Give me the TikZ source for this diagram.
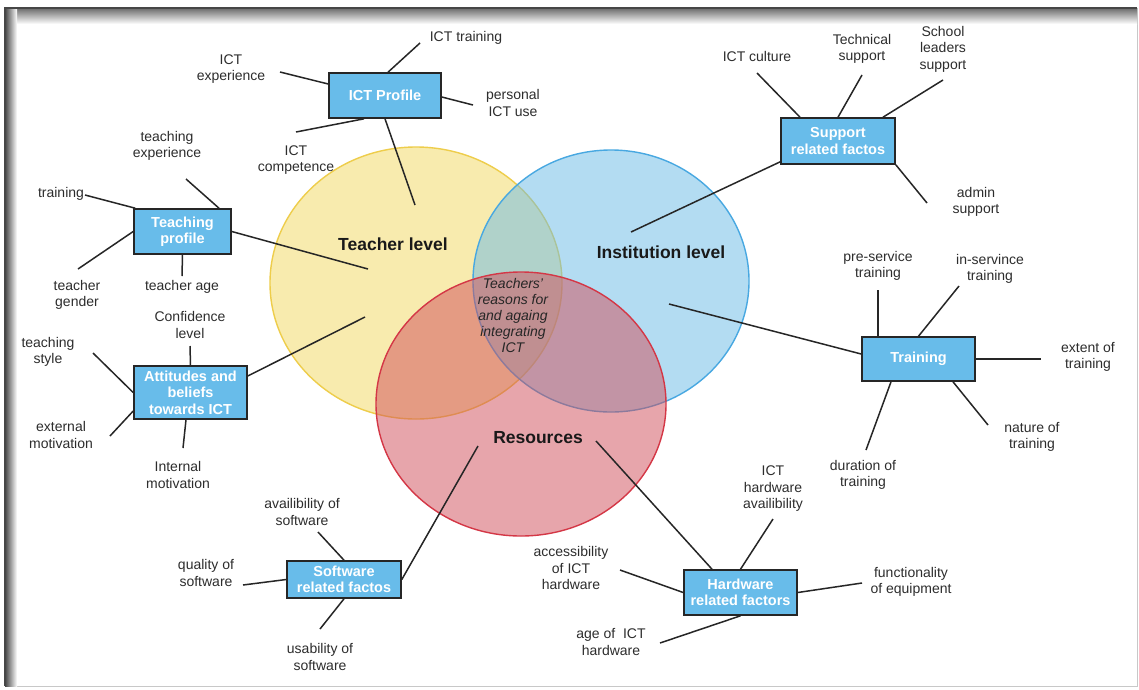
\documentclass[tikz,border=0pt]{standalone}
\usepackage{fontspec}
\setmainfont{Liberation Sans}

\definecolor{ink}{RGB}{45,45,45}
\definecolor{boxfill}{RGB}{104,188,234}
\definecolor{ylwfill}{RGB}{243,217,95}
\definecolor{ylwline}{RGB}{238,205,75}
\definecolor{bluefill}{RGB}{105,187,231}
\definecolor{blueline}{RGB}{72,168,225}
\definecolor{redfill}{RGB}{209,77,89}
\definecolor{redline}{RGB}{212,55,70}
\definecolor{framedark}{RGB}{70,70,70}
\definecolor{framelight}{RGB}{200,200,200}

\tikzset{
  factor/.style={draw=black!85, line width=1.6pt, fill=boxfill, text=white,
    font=\bfseries\fontsize{14.5}{16.5}\selectfont, align=center, inner sep=0pt},
  item/.style={text=ink, font=\fontsize{14}{16.5}\selectfont, align=center, inner sep=0pt},
  level/.style={text=black!90, font=\bfseries\fontsize{17.5}{20}\selectfont, inner sep=0pt},
  link/.style={draw=black!85, line width=1.5pt},
  setfill/.style={fill opacity=0.5, line width=1.4pt}
}

\begin{document}
\begin{tikzpicture}[x=1pt,y=-1pt]
\useasboundingbox (0,0) rectangle (1139,689);
\fill[white] (0,0) rectangle (1139,689);

% framed panel with an inner shadow on the top and left sides
\draw[framelight, line width=1pt] (5,8) rectangle (1137,686);
\shade[top color=framedark!80, bottom color=white] (5,8) rectangle (1137,24);
\shade[left color=framedark, right color=white] (5,8) rectangle (17,686);
\draw[framedark, line width=1.5pt] (5,686) -- (5,8) -- (1137,8);

% the three overlapping levels
\draw[ylwline, fill=ylwfill, setfill] (416,283) ellipse [x radius=146pt, y radius=136pt];
\draw[blueline, fill=bluefill, setfill] (611,281) ellipse [x radius=138pt, y radius=131pt];
\draw[redline, fill=redfill, setfill] (521,404) ellipse [x radius=145pt, y radius=132pt];

\node[level] (tlev) at (393,244) {Teacher level};
\node[level] (ilev) at (661,252) {Institution level};
\node[level] (rlev) at (538,438) {Resources};
\node[item, text=black!85, font=\itshape\fontsize{14}{16}\selectfont] (core) at (513,315)
  {Teachers'\\reasons for\\and againg\\integrating\\ICT};

% factor boxes
\node[factor, minimum width=112pt, minimum height=45pt] (ictp) at (385,95.5) {ICT Profile};
\node[factor, minimum width=97pt, minimum height=45pt] (teach) at (182.5,231.5) {Teaching\\profile};
\node[factor, minimum width=113pt, minimum height=53pt] (att) at (190.5,392.5) {Attitudes and\\beliefs\\towards ICT};
\node[factor, minimum width=114pt, minimum height=46pt] (supp) at (838,141) {Support\\related factos};
\node[factor, minimum width=113pt, minimum height=44pt] (trn) at (918.5,359) {Training};
\node[factor, minimum width=114pt, minimum height=37pt] (soft) at (344,579.5) {Software\\related factos};
\node[factor, minimum width=113pt, minimum height=45pt] (hard) at (740.5,592.5) {Hardware\\related factors};

% item labels
\node[item] (ictt) at (466,38) {ICT training};
\node[item] (icte) at (231,69) {ICT\\experience};
\node[item] (pers) at (513,103) {personal\\ICT use};
\node[item] (icomp) at (296,160) {ICT\\competence};
\node[item] (texp) at (167,146) {teaching\\experience};
\node[item] (ttrn) at (61,194) {training};
\node[item] (tgen) at (77,295) {teacher\\gender};
\node[item] (tage) at (182,287) {teacher age};
\node[item] (conf) at (190,325) {Confidence\\level};
\node[item] (tsty) at (48,352) {teaching\\style};
\node[item] (extm) at (61,435) {external\\motivation};
\node[item] (intm) at (178,475) {Internal\\motivation};
\node[item] (cult) at (757,56) {ICT culture};
\node[item] (tech) at (862,49) {Technical\\support};
\node[item] (lead) at (943,49) {School\\leaders\\support};
\node[item] (admn) at (976,202) {admin\\support};
\node[item] (pres) at (878,266) {pre-service\\training};
\node[item] (inse) at (990,269) {in-servince\\training};
\node[item] (extt) at (1088,357) {extent of\\training};
\node[item] (natt) at (1032,437) {nature of\\training};
\node[item] (durt) at (863,475) {duration of\\training};
\node[item] (havl) at (773,489) {ICT\\hardware\\availibility};
\node[item] (func) at (911,582) {functionality\\of equipment};
\node[item] (hacc) at (571,568) {accessibility\\of ICT\\hardware};
\node[item] (hage) at (611,642) {age of~ ICT\\hardware};
\node[item] (savl) at (302,512) {availibility of\\software};
\node[item] (squa) at (206,573) {quality of\\software};
\node[item] (susa) at (320,657) {usability of\\software};

% free ends of the connectors
\coordinate (e-ictt) at (420,43);
\coordinate (e-icte) at (280,72);
\coordinate (e-pers) at (473,105);
\coordinate (e-icomp) at (296,132);
\coordinate (e-tlev1) at (415,205);
\coordinate (e-texp) at (186,179);
\coordinate (e-ttrn) at (85,195);
\coordinate (e-tgen) at (78,269);
\coordinate (e-tage) at (182,276);
\coordinate (e-tlev2) at (368,269);
\coordinate (e-conf) at (190,346);
\coordinate (e-tsty) at (93,353);
\coordinate (e-extm) at (110,436);
\coordinate (e-intm) at (183,448);
\coordinate (e-tlev3) at (365,317);
\coordinate (e-cult) at (757,73);
\coordinate (e-tech) at (862,75);
\coordinate (e-lead) at (943,80);
\coordinate (e-admn) at (927,203);
\coordinate (e-ilev1) at (631,232);
\coordinate (e-pres) at (878,290);
\coordinate (e-inse) at (959,286);
\coordinate (e-extt) at (1041,359);
\coordinate (e-natt) at (988,425);
\coordinate (e-durt) at (866,450);
\coordinate (e-ilev2) at (669,304);
\coordinate (e-savl) at (318,532);
\coordinate (e-squa) at (243,585);
\coordinate (e-susa) at (320,629);
\coordinate (e-rlev1) at (478,446);
\coordinate (e-rlev2) at (596,441);
\coordinate (e-havl) at (773,519);
\coordinate (e-hacc) at (620,570);
\coordinate (e-func) at (862,583);
\coordinate (e-hage) at (660,643);

% connectors
\begin{scope}[link]
\draw ([xshift=3pt]ictp.north) -- (e-ictt);
\draw ([yshift=11.5pt]ictp.west) -- (e-icte);
\draw ([yshift=-1.5pt]ictp.east) -- (e-pers);
\draw ([xshift=-21pt]ictp.south) -- (e-icomp);
\draw (ictp.south) -- (e-tlev1);

\draw ([xshift=36.5pt]teach.north) -- (e-texp);
\draw ([xshift=2pt]teach.north west) -- (e-ttrn);
\draw (teach.west) -- (e-tgen);
\draw (teach.south) -- (e-tage);
\draw (teach.east) -- (e-tlev2);

\draw (att.north) -- (e-conf);
\draw (att.west) -- (e-tsty);
\draw ([yshift=-18.5pt]att.west) -- (e-extm);
\draw ([xshift=-4.5pt]att.south) -- (e-intm);
\draw ([yshift=16.5pt]att.east) -- (e-tlev3);

\draw ([xshift=-38pt]supp.north) -- (e-cult);
\draw (supp.north) -- (e-tech);
\draw ([xshift=45pt]supp.north) -- (e-lead);
\draw (supp.south east) -- (e-admn);
\draw ([yshift=3pt]supp.south west) -- (e-ilev1);

\draw ([xshift=-40.5pt]trn.north) -- (e-pres);
\draw (trn.north) -- (e-inse);
\draw (trn.east) -- (e-extt);
\draw ([xshift=34.5pt]trn.south) -- (e-natt);
\draw ([xshift=-27.5pt]trn.south) -- (e-durt);
\draw ([yshift=5pt]trn.west) -- (e-ilev2);

\draw (soft.north) -- (e-savl);
\draw (soft.west) -- (e-squa);
\draw (soft.south) -- (e-susa);
\draw (soft.east) -- (e-rlev1);

\draw ([xshift=-28.5pt]hard.north) -- (e-rlev2);
\draw (hard.north) -- (e-havl);
\draw (hard.west) -- (e-hacc);
\draw (hard.east) -- (e-func);
\draw (hard.south) -- (e-hage);
\end{scope}
\end{tikzpicture}
\end{document}
